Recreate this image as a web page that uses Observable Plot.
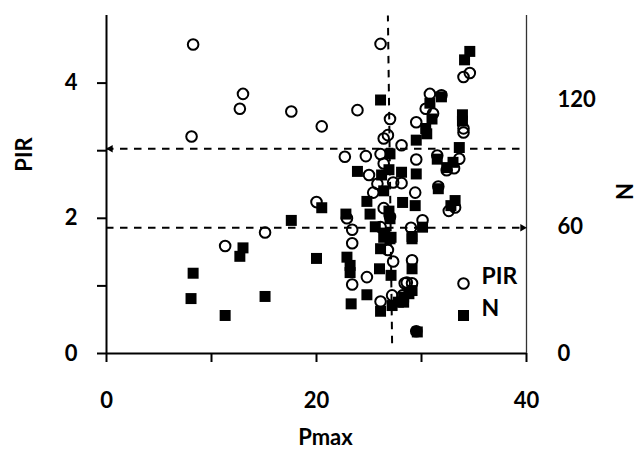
<!DOCTYPE html>
<html><head><meta charset="utf-8">
<script src="https://cdn.jsdelivr.net/npm/d3@7"></script>
<script src="https://cdn.jsdelivr.net/npm/@observablehq/plot@0.6"></script>
<style>html,body{margin:0;padding:0;background:#fff;}</style>
</head><body><div id="chart"></div>
<script>
// PIR series (open circles, left axis)
const pirPmax = [8.25,26.1,13.0,12.7,17.6,23.9,20.5,8.1,27.0,26.8,26.4,28.1,29.5,30.8,30.4,31.1,34.0,34.6,34.0,34.0,
  22.7,24.7,26.1,26.4,29.5,31.5,33.6,33.1,32.4,25.0,27.3,28.1,25.8,25.4,29.4,31.6,20.0,26.4,27.0,22.9,
  32.6,33.2,30.1,29.0,23.4,15.1,11.3,23.4,26.1,26.8,27.3,29.1,24.8,23.4,28.4,29.1,27.2,28.2,26.1,29.5,31.9,28.6];
const pirValues = [4.57,4.58,3.84,3.62,3.58,3.60,3.36,3.21,3.47,3.23,3.18,3.08,3.42,3.84,3.62,3.55,4.09,4.15,3.33,3.27,
  2.91,2.92,2.95,2.81,2.87,2.93,2.88,2.74,2.71,2.64,2.53,2.52,2.51,2.38,2.38,2.47,2.24,2.15,2.02,2.00,
  2.11,2.16,1.97,1.86,1.83,1.79,1.59,1.63,1.87,1.53,1.36,1.38,1.13,1.02,1.04,1.04,0.86,0.86,0.77,0.33,3.82,1.05];
// N series (filled squares, right axis)
const nPmax = [34.6,34.1,31.9,26.1,30.8,31.0,30.4,30.5,29.5,33.9,33.9,33.6,27.0,31.5,33.0,32.4,23.9,26.9,26.2,28.1,
  29.5,26.4,31.6,24.8,28.2,29.4,33.2,32.8,20.5,22.8,25.1,26.9,27.0,17.6,25.6,26.5,27.1,30.1,29.1,13.0,
  12.7,20.0,22.9,23.2,23.2,26.1,27.0,26.0,27.1,29.1,8.25,8.05,15.1,11.3,24.8,23.3,26.1,27.2,27.8,28.3,
  28.8,29.1,28.3,29.6,26.4,29.1];
const nValues = [143,139,121.5,120,118.5,111,106.5,104,101,113,110,97.5,94.5,92,90.5,88,86.2,87,84.5,85.8,
  85,77,78,72,71.5,70,72.4,70,69,66,66,67.4,63.8,63,60,57,55,59.8,55.4,50,
  46,45,45.6,41.7,38.3,49.6,54.3,40.1,37,40.1,38,26,27,18,27.8,23.5,20,22.7,24.3,26.7,
  28.3,29.8,24.3,10.2,55,54.3];
// axes
const xTicks = [0,10,20,30,40];
const xTickLabels = [0,20,40];
const pirTicks = [0,1,2,3,4];
const pirTickLabels = [0,2,4];
const nTickLabels = [0,60,120];
const pirMax = 5, nMax = 160, pmaxMax = 40;
// reference lines
const pirCut = 3.03;
const nCut = 59.5;
const pmaxCutTop = 26.8, pmaxCutBottom = 27.2, pmaxCutLow = 0.15;

const toPIR = n => n * pirMax / nMax;
const font = "Lato, 'Open Sans', sans-serif";
const dash = "7.5,6.5";

const plot = Plot.plot({
  width: 636, height: 457,
  marginLeft: 106, marginRight: 110, marginTop: 15, marginBottom: 104,
  x: {domain: [0, pmaxMax]},
  y: {domain: [0, pirMax]},
  style: {fontFamily: font, fontSize: "22px", fontWeight: "bold", color: "#000", background: "#fff", overflow: "visible"},
  marks: [
    Plot.axisX({ticks: xTicks, tickSize: 9, tickPadding: 30, strokeWidth: 2, label: null,
      tickFormat: d => xTickLabels.includes(d) ? String(d) : "", fontSize: 22, fontWeight: "bold"}),
    Plot.axisY({ticks: pirTicks, tickSize: 9, tickPadding: 20, strokeWidth: 2, label: null,
      tickFormat: d => pirTickLabels.includes(d) ? String(d) : "", fontSize: 22, fontWeight: "bold"}),
    Plot.axisY({anchor: "right", ticks: nTickLabels.map(toPIR), tickSize: 0, tickPadding: 31, label: null,
      tickFormat: d => String(Math.round(d * nMax / pirMax)), fontSize: 22, fontWeight: "bold"}),
    Plot.ruleX([0], {y1: 0, y2: pirMax, strokeWidth: 2}),
    Plot.ruleY([0], {x1: 0, x2: pmaxMax, strokeWidth: 2}),
    Plot.ruleX([pmaxMax], {y1: 0, y2: pirMax, strokeWidth: 1.3, stroke: "#333"}),
    // dashed reference lines
    Plot.ruleY([pirCut], {x1: 0, x2: pmaxMax, strokeDasharray: dash, strokeWidth: 2}),
    Plot.ruleY([toPIR(nCut)], {x1: 0, x2: pmaxMax, strokeDasharray: dash, strokeWidth: 2}),
    Plot.link([0], {x1: pmaxCutBottom, y1: pmaxCutLow, x2: pmaxCutTop, y2: pirMax, strokeDasharray: dash, strokeWidth: 2}),
    Plot.dot([0], {x: 0, y: pirCut, symbol: "triangle", rotate: -90, r: 2.8, fill: "black", stroke: "none", dx: 4}),
    Plot.dot([0], {x: pmaxMax, y: toPIR(nCut), symbol: "triangle", rotate: 90, r: 2.8, fill: "black", stroke: "none", dx: -4}),
    // data
    Plot.dot(nValues, {x: nPmax, y: nValues.map(toPIR), symbol: "square", r: 6.2, fill: "black", stroke: "none"}),
    Plot.dot(pirValues, {x: pirPmax, y: pirValues, symbol: "circle", r: 5.3, fill: "none", stroke: "black", strokeWidth: 2}),
    // legend
    Plot.dot([0], {frameAnchor: "bottom-right", dx: -63, dy: -70, symbol: "circle", r: 5.3, fill: "none", stroke: "black", strokeWidth: 2}),
    Plot.dot([0], {frameAnchor: "bottom-right", dx: -63, dy: -38, symbol: "square", r: 6.2, fill: "black", stroke: "none"}),
    Plot.text(["PIR"], {frameAnchor: "bottom-right", dx: -45, dy: -70, textAnchor: "start", fontSize: 23, fontWeight: "bold", fontFamily: font}),
    Plot.text(["N"], {frameAnchor: "bottom-right", dx: -45, dy: -38, textAnchor: "start", fontSize: 23, fontWeight: "bold", fontFamily: font}),
    // axis titles
    Plot.text(["Pmax"], {frameAnchor: "bottom", dx: 9, dy: 91, textAnchor: "middle", fontSize: 22, fontWeight: "bold", fontFamily: font}),
    Plot.text(["PIR"], {frameAnchor: "left", dx: -82, dy: -30, rotate: -90, textAnchor: "middle", fontSize: 22, fontWeight: "bold", fontFamily: font}),
    Plot.text(["N"], {frameAnchor: "right", dx: 99, dy: 7, rotate: -90, textAnchor: "middle", fontSize: 22, fontWeight: "bold", fontFamily: font})
  ]
});
document.getElementById("chart").appendChild(plot);
</script>
</body></html>
